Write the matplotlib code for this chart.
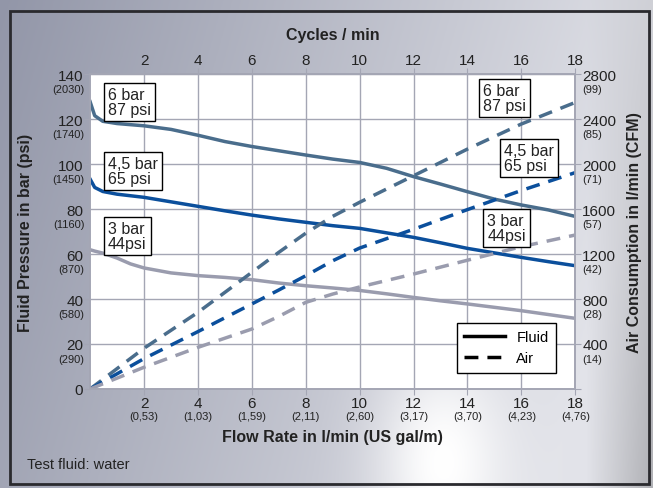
import numpy as np
import matplotlib
matplotlib.use("Agg")
import matplotlib.pyplot as plt
from matplotlib.lines import Line2D
from matplotlib.patches import Rectangle

plt.rcParams['font.family'] = ['Liberation Sans', 'DejaVu Sans']

# Flow rate (l/min) sample points for the fluid curves
flow = [0, 0.17, 0.47, 1, 1.5, 2, 3, 4, 5, 6, 7, 8, 9, 10, 11, 12, 13, 14, 15, 16, 17, 18]

# Fluid pressure in bar
fluid_6 = [127.7, 121.5, 119, 118, 117.5, 117, 115.4, 112.8, 110, 107.8, 105.9, 104, 102.2,
           100.7, 98.1, 94.4, 91.1, 87.7, 84.4, 81.8, 79.6, 76.7]
fluid_45 = [93.3, 89.6, 87.8, 86.6, 85.9, 85.2, 83.2, 81.2, 79.2, 77.3, 75.6, 74.1, 72.6,
            71.4, 69.4, 67.4, 65, 62.5, 60.5, 58.5, 56.6, 54.8]
fluid_3 = [61.9, 61.3, 60.4, 58.2, 55.6, 53.8, 51.6, 50.4, 49.6, 48.6, 47.1, 45.9, 44.9,
           43.8, 42.3, 40.7, 39.2, 37.8, 36.3, 34.8, 33.1, 31.4]

# Air consumption in l/min
air_flow = [0, 2, 4, 6, 7, 8, 9, 10, 12, 14, 16, 18]
air_6 = [0, 362, 681, 1037, 1215, 1385, 1535, 1660, 1896, 2133, 2356, 2548]
air_45 = [0, 270, 510, 756, 880, 1007, 1140, 1253, 1420, 1595, 1765, 1924]
air_3 = [0, 193, 370, 533, 645, 770, 844, 907, 1022, 1145, 1265, 1369]

x_ticks = [2, 4, 6, 8, 10, 12, 14, 16, 18]
gal_labels = ["(0,53)", "(1,03)", "(1,59)", "(2,11)", "(2,60)", "(3,17)", "(3,70)", "(4,23)", "(4,76)"]
bar_ticks = [0, 20, 40, 60, 80, 100, 120, 140]
psi_labels = ["", "(290)", "(580)", "(870)", "(1160)", "(1450)", "(1740)", "(2030)"]
air_ticks = [0, 400, 800, 1200, 1600, 2000, 2400, 2800]
cfm_labels = ["", "(14)", "(28)", "(42)", "(57)", "(71)", "(85)", "(99)"]

c6 = "#4a6d8c"
c45 = "#0b4f9c"
c3 = "#9a9cae"
grid_c = "#a4a6b4"
txt_c = "#222222"

fig = plt.figure(figsize=(6.53, 4.89), dpi=100)

# gradient background
bg = fig.add_axes([0, 0, 1, 1], zorder=-10)
h, w = 200, 260
xx, yy = np.meshgrid(np.linspace(0, 1, w), np.linspace(0, 1, h))
left = np.array([146, 150, 168]) / 255
right = np.array([226, 227, 233]) / 255
t = np.clip(xx * 0.95 + yy * 0.2, 0, 1)[..., None]
img = left * (1 - t) + right * t
spot = np.exp(-(((xx - 0.68) / 0.10) ** 2 + ((yy - 0.95) / 0.22) ** 2))[..., None]
img = img * (1 - spot) + spot * 1.0
edge = (np.clip((xx - 0.9) / 0.1, 0, 1) * (0.3 + 0.7 * yy))[..., None]
img = img * (1 - 0.22 * edge)
bg.imshow(img, extent=[0, 1, 0, 1], aspect='auto', origin='upper')
bg.add_patch(Rectangle((0.016, 0.008), 0.978, 0.968, fill=False, ec="#2a2a2e", lw=2))
bg.set_xlim(0, 1)
bg.set_ylim(0, 1)
bg.axis('off')

ax = fig.add_axes([0.138, 0.2025, 0.743, 0.644])
ax.set_facecolor('white')
ax2 = ax.twinx()

ax.plot(flow, fluid_6, color=c6, lw=2.5, solid_joinstyle='round')
ax.plot(flow, fluid_45, color=c45, lw=2.5, solid_joinstyle='round')
ax.plot(flow, fluid_3, color=c3, lw=2.5, solid_joinstyle='round')

dash = (0, (4, 2.6))
ax2.plot(air_flow, air_6, color=c6, lw=2.5, linestyle=dash)
ax2.plot(air_flow, air_45, color=c45, lw=2.5, linestyle=dash)
ax2.plot(air_flow, air_3, color=c3, lw=2.5, linestyle=dash)

ax.set_xlim(0, 18)
ax.set_ylim(0, 140)
ax2.set_ylim(0, 2800)

ax.set_xticks(x_ticks)
ax.set_xticklabels([str(v) for v in x_ticks], fontsize=11)
ax.set_yticks(bar_ticks)
ax.set_yticklabels([str(v) for v in bar_ticks], fontsize=11)
ax2.set_yticks(air_ticks)
ax2.set_yticklabels([str(v) if v else "" for v in air_ticks], fontsize=11)
ax.grid(True, color=grid_c, lw=1)
ax.set_axisbelow(True)

for a in (ax, ax2):
    for s in a.spines.values():
        s.set_color(grid_c)
        s.set_linewidth(1.2)
    a.tick_params(colors=grid_c, labelcolor=txt_c, length=4, pad=1)

top = ax.secondary_xaxis('top')
top.set_xticks(x_ticks)
top.set_xticklabels([str(v) for v in x_ticks], fontsize=11)
top.tick_params(colors=grid_c, labelcolor=txt_c, length=4, pad=1)
top.spines['top'].set_color(grid_c)

# secondary unit labels
for xv, lab in zip(x_ticks, gal_labels):
    ax.annotate(lab, xy=(xv, 0), xycoords=('data', 'axes fraction'),
                xytext=(0, -15.5), textcoords='offset points', ha='center', va='top',
                fontsize=8, color=txt_c)
for yv, lab in zip(bar_ticks, psi_labels):
    ax.annotate(lab, xy=(0, yv), xycoords=('axes fraction', 'data'),
                xytext=(-4, -10.5), textcoords='offset points', ha='right', va='center',
                fontsize=8, color=txt_c)
for yv, lab in zip(air_ticks, cfm_labels):
    ax2.annotate(lab, xy=(1, yv), xycoords=('axes fraction', 'data'),
                 xytext=(5, -10.5), textcoords='offset points', ha='left', va='center',
                 fontsize=8, color=txt_c)

ax.set_xlabel("Flow Rate in l/min (US gal/m)", fontsize=11.5, fontweight='bold', labelpad=14, color=txt_c)
ax.set_ylabel("Fluid Pressure in bar (psi)", fontsize=11.5, fontweight='bold', labelpad=18, color=txt_c)
ax2.set_ylabel("Air Consumption in l/min (CFM)", fontsize=11.5, fontweight='bold', labelpad=8, color=txt_c)
top.set_xlabel("Cycles / min", fontsize=11.5, fontweight='bold', labelpad=10, color=txt_c)

box = dict(boxstyle='square,pad=0.25', fc='white', ec='black', lw=1)
labels = [("6 bar\n87 psi", 0.037, 0.959), ("4,5 bar\n65 psi", 0.037, 0.740),
          ("3 bar\n44psi", 0.037, 0.533), ("6 bar\n87 psi", 0.810, 0.971),
          ("4,5 bar\n65 psi", 0.854, 0.781), ("3 bar\n44psi", 0.819, 0.559)]
for txt, tx, ty in labels:
    ax2.text(tx, ty, txt, transform=ax.transAxes, ha='left', va='top', fontsize=11.5,
             linespacing=1.0, bbox=box, color=txt_c, zorder=5)

handles = [Line2D([], [], color='black', lw=2.5),
           Line2D([], [], color='black', lw=2.5, linestyle=dash)]
leg = ax2.legend(handles, ["Fluid", "Air"], loc='lower right', bbox_to_anchor=(0.975, 0.029),
                 fancybox=False, edgecolor='black', framealpha=1, fontsize=10.5,
                 handlelength=2.8, borderpad=0.5, labelspacing=0.5, handletextpad=0.8)
leg.get_frame().set_linewidth(1)

fig.text(0.041, 0.04, "Test fluid: water", fontsize=10.5, color=txt_c)

fig.savefig("out.png", dpi=100)
